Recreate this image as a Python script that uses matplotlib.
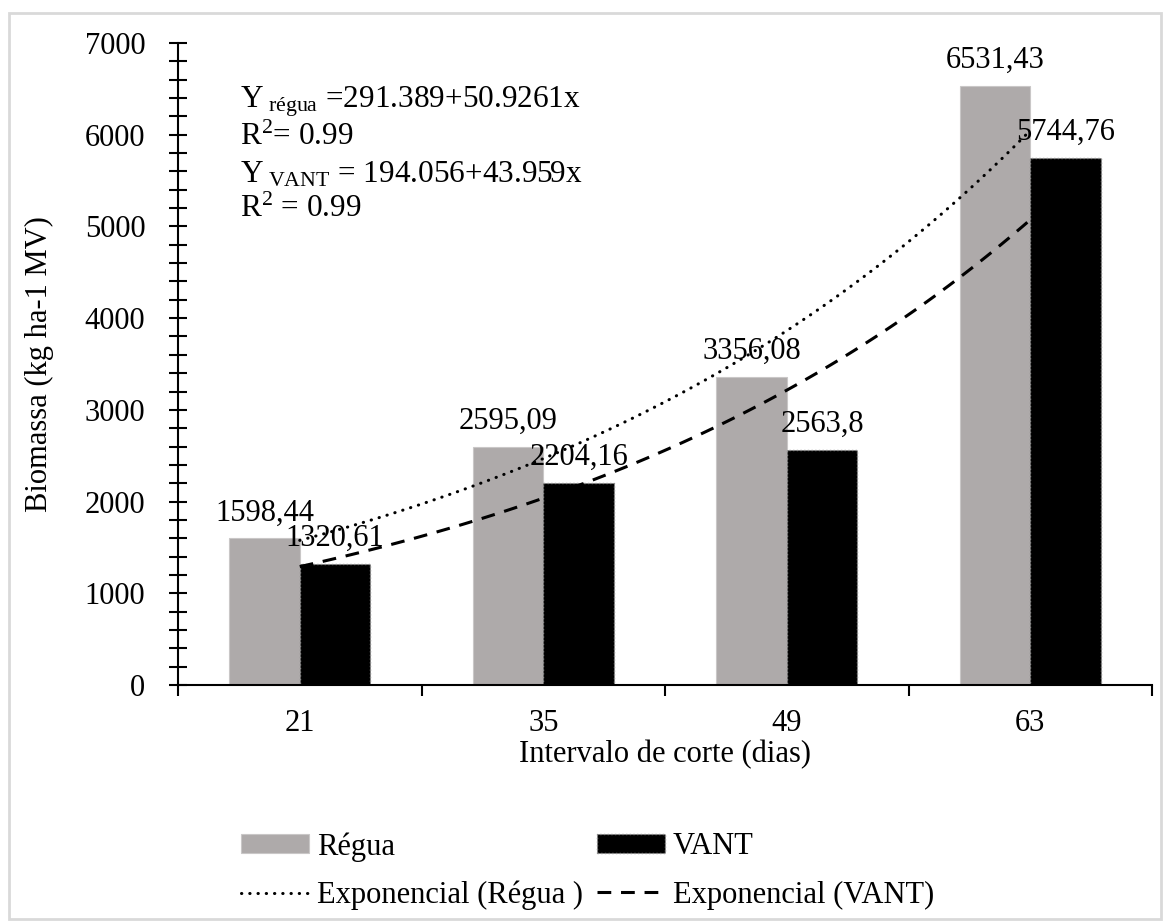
import matplotlib.pyplot as plt
import numpy as np
from matplotlib.patches import Rectangle

plt.rcParams['font.family'] = ['Liberation Serif', 'DejaVu Serif']
plt.rcParams['mathtext.fontset'] = 'custom'
plt.rcParams['mathtext.rm'] = 'Liberation Serif'
plt.rcParams['mathtext.it'] = 'Liberation Serif:italic'
plt.rcParams['font.size'] = 22

# data
dias = ['21', '35', '49', '63']
regua = [1598.44, 2595.09, 3356.08, 6531.43]
vant = [1320.61, 2204.16, 2563.8, 5744.76]
regua_lbl = ['1598,44', '2595,09', '3356,08', '6531,43']
vant_lbl = ['1320,61', '2204,16', '2563,8', '5744,76']

fig = plt.figure(figsize=(11.7, 9.24), dpi=100)
ax = fig.add_axes([178 / 1170, 1 - 685 / 924, (1152 - 178) / 1170, (685 - 43) / 924])

x = np.arange(len(dias))
w = 0.29
b1 = ax.bar(x - w / 2, regua, w, color='#AEAAAA', edgecolor='#C9C7C7', linewidth=0.8, label='Régua')
b2 = ax.bar(x + w / 2, vant, w, color='black', edgecolor='#8c8c8c', linestyle=':', linewidth=1, label='VANT')

# exponential trendlines (Excel style: fit on category index 1..n)
xi = x + 1
b_r, a_r = np.polyfit(xi, np.log(regua), 1)
b_v, a_v = np.polyfit(xi, np.log(vant), 1)
xs = np.linspace(0, 3, 100)
l1, = ax.plot(xs, np.exp(a_r + b_r * (xs + 1)), color='black', linestyle=(0, (0.1, 2.6)),
              dash_capstyle='round', linewidth=2.2, label='Exponencial (Régua )')
l2, = ax.plot(xs, np.exp(a_v + b_v * (xs + 1)), color='black', linestyle=(0, (4.5, 3.2)),
              linewidth=2.2, label='Exponencial (VANT)')

for i in range(len(dias)):
    ax.annotate(regua_lbl[i], (x[i] - w / 2, regua[i]), xytext=(0, 13), textcoords='offset points',
                ha='center', va='baseline')
    ax.annotate(vant_lbl[i], (x[i] + w / 2, vant[i]), xytext=(0, 13), textcoords='offset points',
                ha='center', va='baseline')

ax.set_xlim(-0.5, 3.5)
ax.set_ylim(0, 7000)
ax.set_yticks(np.arange(0, 7001, 1000))
ax.set_yticks(np.arange(0, 7001, 200), minor=True)
ax.set_xticks(x)
ax.set_xticklabels(dias)
ax.set_xticks(np.arange(-0.5, 4, 1), minor=True)
ax.tick_params(axis='y', which='both', direction='inout', length=13, width=1.5, pad=17)
ax.tick_params(axis='x', which='major', length=0, pad=17)
ax.tick_params(axis='x', which='minor', direction='out', length=8, width=1.5)
for s in ['top', 'right']:
    ax.spines[s].set_visible(False)
ax.spines['left'].set_linewidth(1.5)
ax.spines['bottom'].set_linewidth(1.5)

ax.set_xlabel('Intervalo de corte (dias)', labelpad=2)
ax.set_ylabel('Biomassa (kg ha-1 MV)', labelpad=22)

eq = [r'Y$_{\ \mathrm{régua}}$ =291.389+50.9261x', r'R$^{2}$= 0.99',
      r'Y$_{\ \mathrm{VANT}}$ = 194.056+43.959x', r'R$^{2}$ = 0.99']
eq_y = [0.900, 0.841, 0.782, 0.729]
for k, t in enumerate(eq):
    ax.text(0.064, eq_y[k], t, transform=ax.transAxes, ha='left', va='baseline', fontsize=22.5)

ax.legend([b1, l1, b2, l2], ['Régua', 'Exponencial (Régua )', 'VANT', 'Exponencial (VANT)'],
          ncol=2, loc='upper left', bbox_to_anchor=(241 / 1170, 1 - 832 / 924),
          bbox_transform=fig.transFigure, frameon=False, handlelength=2.23,
          handleheight=0.6, handletextpad=0.26, columnspacing=0.45, labelspacing=0.62,
          borderaxespad=0, borderpad=0)

fig.patches.append(Rectangle((9 / 1170, 1 - 919 / 924), 1152 / 1170, 906 / 924,
                             transform=fig.transFigure, fill=False, edgecolor='#D9D9D9',
                             linewidth=2))

fig.savefig('out.png', dpi=100)
